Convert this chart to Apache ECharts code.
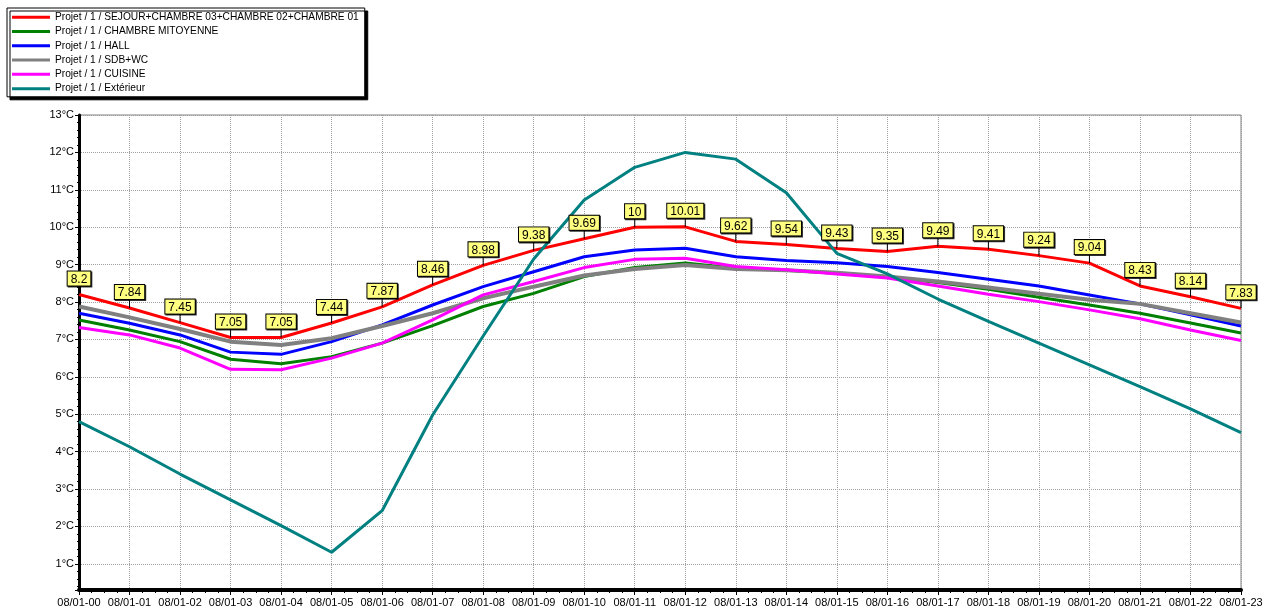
<!DOCTYPE html>
<html>
<head>
<meta charset="utf-8">
<title>Températures</title>
<script src="https://cdn.jsdelivr.net/npm/echarts@6/dist/echarts.min.js"></script>
<style>
  html, body { margin: 0; padding: 0; background: #fff; }
  #chart { width: 1277px; height: 614px; }
</style>
</head>
<body>
<div id="chart"></div>
<script>
// heures (axe X)
let hours = [
  "08/01-00", "08/01-01", "08/01-02", "08/01-03", "08/01-04", "08/01-05",
  "08/01-06", "08/01-07", "08/01-08", "08/01-09", "08/01-10", "08/01-11",
  "08/01-12", "08/01-13", "08/01-14", "08/01-15", "08/01-16", "08/01-17",
  "08/01-18", "08/01-19", "08/01-20", "08/01-21", "08/01-22", "08/01-23"
];

let seriesNames = [
  "Projet / 1 / SEJOUR+CHAMBRE 03+CHAMBRE 02+CHAMBRE 01",
  "Projet / 1 / CHAMBRE MITOYENNE",
  "Projet / 1 / HALL",
  "Projet / 1 / SDB+WC",
  "Projet / 1 / CUISINE",
  "Projet / 1 / Extérieur"
];

let sejour = [8.2, 7.84, 7.45, 7.05, 7.05, 7.44, 7.87, 8.46, 8.98, 9.38, 9.69, 10, 10.01, 9.62, 9.54, 9.43, 9.35, 9.49, 9.41, 9.24, 9.04, 8.43, 8.14, 7.83];
let mitoyenne = [7.52, 7.25, 6.94, 6.47, 6.35, 6.54, 6.90, 7.37, 7.88, 8.23, 8.68, 8.92, 9.04, 8.90, 8.85, 8.77, 8.67, 8.52, 8.34, 8.13, 7.92, 7.70, 7.44, 7.17];
let hall = [7.70, 7.43, 7.12, 6.66, 6.60, 6.94, 7.39, 7.92, 8.41, 8.81, 9.21, 9.39, 9.44, 9.21, 9.11, 9.05, 8.95, 8.79, 8.61, 8.43, 8.19, 7.95, 7.66, 7.36];
let sdb = [7.88, 7.59, 7.28, 6.94, 6.85, 7.03, 7.36, 7.70, 8.10, 8.41, 8.71, 8.88, 8.99, 8.88, 8.85, 8.78, 8.68, 8.55, 8.39, 8.22, 8.06, 7.95, 7.70, 7.45];
let cuisine = [7.32, 7.12, 6.77, 6.20, 6.19, 6.50, 6.90, 7.52, 8.19, 8.55, 8.92, 9.14, 9.17, 8.95, 8.86, 8.75, 8.64, 8.43, 8.21, 8.01, 7.79, 7.55, 7.25, 6.97];
let exterieur = [4.80, 4.13, 3.40, 2.71, 2.02, 1.31, 2.42, 4.98, 7.09, 9.15, 10.73, 11.60, 12.00, 11.82, 10.92, 9.30, 8.75, 8.08, 7.48, 6.90, 6.32, 5.74, 5.14, 4.51];

let colors = ["#ff0000", "#008000", "#0000ff", "#808080", "#ff00ff", "#008080"];
let widths = [3, 3, 3, 4, 3, 3];
let allData = [sejour, mitoyenne, hall, sdb, cuisine, exterieur];

let myChart = echarts.init(document.getElementById("chart"));
let font = "Liberation Sans, Arial, sans-serif";

let series = [];
for (let i = 0; i < allData.length; i++) {
  series.push({
    name: seriesNames[i],
    type: "line",
    showSymbol: false,
    symbol: "none",
    silent: true,
    itemStyle: { color: colors[i] },
    lineStyle: { color: colors[i], width: widths[i] },
    data: allData[i].map(function(v, k) { return [k, v]; })
  });
}
// étiquettes jaunes du séjour, avec le petit trait
series.push({
  name: "etiquettes",
  type: "scatter",
  silent: true,
  z: 5,
  symbol: "rect",
  symbolSize: [1, 9],
  symbolOffset: [0, -4.5],
  itemStyle: { color: "#000", opacity: 1 },
  label: {
    show: true,
    position: "top",
    distance: 0,
    formatter: function(p) { return String(sejour[p.dataIndex]); },
    backgroundColor: "#ffff80",
    borderColor: "#000",
    borderWidth: 1,
    padding: [2, 3, 0, 3],
    fontSize: 12,
    fontFamily: font,
    color: "#000",
    opacity: 1,
    shadowColor: "rgba(0,0,0,0.8)",
    shadowOffsetX: 1,
    shadowOffsetY: 1
  },
  data: sejour.map(function(v, k) { return [k, v]; })
});

let option = {
  backgroundColor: "#fff",
  animation: false,
  textStyle: { fontFamily: font },
  legend: {
    data: seriesNames,
    orient: "vertical",
    left: 7,
    top: 8,
    padding: [2, 6, 1, 5],
    itemGap: 0,
    itemWidth: 38,
    itemHeight: 3,
    icon: "rect",
    backgroundColor: "#fff",
    borderColor: "#000",
    borderWidth: 1,
    shadowColor: "#000",
    shadowBlur: 0,
    shadowOffsetX: 3,
    shadowOffsetY: 3,
    selectedMode: false,
    textStyle: { fontSize: 10.2, color: "#000", fontFamily: font, lineHeight: 14.3 }
  },
  grid: {
    left: 79,
    right: 36,
    top: 115,
    bottom: 24,
    containLabel: false,
    outerBoundsMode: "none",
    show: true,
    borderColor: "#808080",
    borderWidth: 1
  },
  xAxis: {
    type: "value",
    min: 0,
    max: 23,
    interval: 1,
    axisLine: { lineStyle: { color: "#000", width: 4 } },
    axisTick: { length: 5, lineStyle: { color: "#000", width: 1 } },
    minorTick: { show: true, splitNumber: 4, length: 3, lineStyle: { color: "#000" } },
    axisLabel: {
      margin: 7,
      fontSize: 11,
      color: "#000",
      fontFamily: font,
      formatter: function(v) { return hours[v] || ""; }
    },
    splitLine: { show: true, lineStyle: { color: "#a0a0a0", type: "dotted", width: 1 } }
  },
  yAxis: {
    type: "value",
    min: 0.3,
    max: 13,
    splitNumber: 13,
    axisLine: { show: true, lineStyle: { color: "#000", width: 3 } },
    axisTick: { show: true, length: 4, lineStyle: { color: "#000", width: 1 } },
    minorTick: { show: true, splitNumber: 5, length: 2, lineStyle: { color: "#000" } },
    axisLabel: {
      margin: 5,
      fontSize: 11,
      color: "#000",
      fontFamily: font,
      formatter: function(v) { return Math.abs(v - Math.round(v)) < 1e-6 ? v + "°C" : ""; }
    },
    splitLine: { show: true, lineStyle: { color: "#a0a0a0", type: "dotted", width: 1 } }
  },
  series: series
};
myChart.setOption(option, true);
</script>
</body>
</html>
